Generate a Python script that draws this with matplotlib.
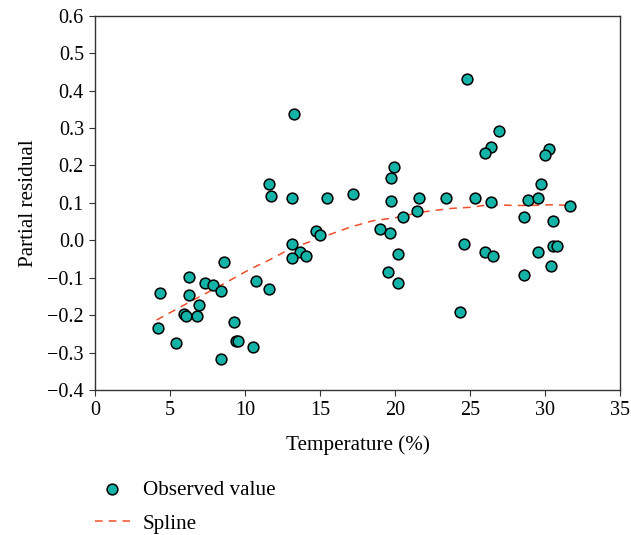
import matplotlib.pyplot as plt
from matplotlib.ticker import FuncFormatter

plt.rcParams['font.family'] = ['Liberation Serif', 'DejaVu Serif']

# Observed values (temperature, partial residual)
temp = [13.27, 11.6, 11.7, 13.15, 15.47, 17.2, 14.71, 14.98, 13.15, 13.69,
        14.09, 13.15, 8.62, 6.27, 10.71, 7.31, 7.87, 11.62, 8.38, 4.33,
        6.27, 6.93, 5.91, 6.04, 6.8, 4.2, 9.27, 9.38, 9.56, 5.38,
        10.53, 8.38, 24.82, 26.91, 26.4, 26.0, 30.29, 30.02, 19.91, 19.76,
        29.76, 19.76, 21.6, 23.4, 25.36, 26.42, 28.87, 29.51, 31.69, 21.47,
        20.56, 28.6, 30.53, 19.0, 19.64, 24.58, 30.53, 30.8, 20.18, 26.0,
        26.53, 29.51, 30.4, 19.51, 28.6, 20.18, 24.31]
resid = [0.338, 0.150, 0.117, 0.113, 0.112, 0.124, 0.024, 0.013, -0.009, -0.031,
         -0.043, -0.048, -0.059, -0.098, -0.108, -0.115, -0.119, -0.130, -0.135, -0.142,
         -0.147, -0.174, -0.197, -0.203, -0.203, -0.235, -0.219, -0.268, -0.268, -0.274,
         -0.284, -0.318, 0.431, 0.293, 0.250, 0.232, 0.245, 0.228, 0.195, 0.166,
         0.150, 0.106, 0.112, 0.112, 0.112, 0.101, 0.107, 0.113, 0.091, 0.079,
         0.062, 0.063, 0.052, 0.030, 0.019, -0.009, -0.015, -0.014, -0.036, -0.031,
         -0.043, -0.031, -0.070, -0.085, -0.092, -0.115, -0.191]

# Spline fit
spline_x = [4.1, 5.2, 6.3, 8.5, 10.3, 11.7, 13.0, 15.0, 17.0, 18.5,
            20.0, 21.7, 23.7, 25.0, 26.3, 28.0, 29.0, 30.5, 31.7]
spline_y = [-0.213, -0.189, -0.165, -0.118, -0.078, -0.051, -0.023, 0.006, 0.035, 0.052,
            0.060, 0.075, 0.085, 0.088, 0.095, 0.093, 0.093, 0.095, 0.093]

fig = plt.figure(figsize=(6.31, 5.35), dpi=100)
ax = fig.add_axes([0.1506, 0.271, 0.832, 0.6997])

pts = ax.scatter(temp, resid, s=60, color='#14b3a8', edgecolor='black',
                 linewidth=1.1, zorder=3, label='Observed value')
line, = ax.plot(spline_x, spline_y, '--', color='#f04e2a', linewidth=1.1,
                dashes=(5, 4), zorder=2, label='Spline')

ax.set_xlim(0, 35)
ax.set_ylim(-0.4, 0.6)
ax.set_xticks(range(0, 36, 5))
ax.set_yticks([-0.4, -0.3, -0.2, -0.1, 0.0, 0.1, 0.2, 0.3, 0.4, 0.5, 0.6])
ax.yaxis.set_major_formatter(FuncFormatter(lambda v, p: f'{v:.1f}'.replace('-', '\u2212')))
ax.tick_params(direction='out', length=4, width=0.8, labelsize=14.5, pad=4,
               top=False, right=False, color='#333333')
for s in ax.spines.values():
    s.set_color('#333333')
    s.set_linewidth(1.0)

ax.set_xlabel('Temperature (%)', fontsize=15.2, labelpad=11)
ax.set_ylabel('Partial residual', fontsize=15.2, labelpad=7)

fig.legend(handles=[pts, line], loc='upper left', bbox_to_anchor=(0.1506, 0.103),
           frameon=False, fontsize=15.2, handlelength=1.65, handletextpad=0.62,
           labelspacing=0.68, borderpad=0, borderaxespad=0, scatterpoints=1)

fig.savefig('out.png', dpi=100)
